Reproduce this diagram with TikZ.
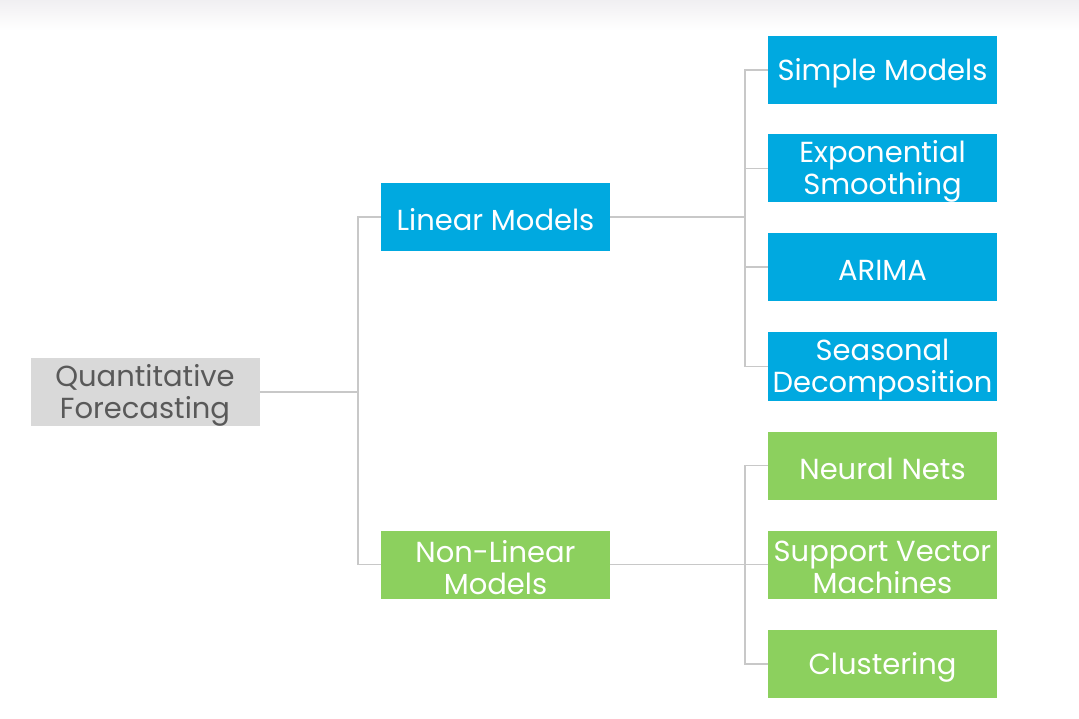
\documentclass[tikz,border=0pt]{standalone}
\usepackage{fontspec}
\setmainfont{Poppins}
\definecolor{bluebox}{HTML}{00A9E0}
\definecolor{greenbox}{HTML}{8CD05E}
\definecolor{graybox}{HTML}{D9D9D9}
\definecolor{graytext}{HTML}{595959}
\definecolor{linecol}{HTML}{C8C8C8}
\definecolor{topshade}{HTML}{F0EFF2}
\begin{document}
\begin{tikzpicture}[x=1pt,y=-1pt,
  box/.style={minimum width=229pt,minimum height=68pt,inner sep=0pt},
  bbox/.style={box,fill=bluebox},
  gbox/.style={box,fill=greenbox},
  qbox/.style={box,fill=graybox},
  txt/.style={inner sep=0pt,align=center,yshift=-3pt,text=white,font=\fontsize{29}{32}\selectfont},
  qtxt/.style={txt,text=graytext},
  conn/.style={draw=linecol,line width=1.4pt}]
\useasboundingbox (0,0) rectangle (1079,719);
\fill[white] (0,0) rectangle (1079,719);
\shade[top color=topshade,bottom color=white] (0,0) rectangle (1079,30);
\node[qbox] (qf) at (145,392) {};
\node[qtxt] (qft) at (qf) {Quantitative\\Forecasting};
\node[bbox] (lin) at (495.5,217) {};
\node[txt] (lint) at (lin) {Linear Models};
\node[gbox] (nl) at (495.5,564.5) {};
\node[txt] (nlt) at (nl) {Non-Linear\\Models};
\node[bbox] (sm) at (882.5,70) {};
\node[txt] (smt) at (sm) {Simple Models};
\node[bbox] (es) at (882.5,168.5) {};
\node[txt] (est) at (es) {Exponential\\Smoothing};
\node[bbox] (ar) at (882.5,267) {};
\node[txt] (art) at (ar) {ARIMA};
\node[bbox] (sd) at (882.5,366.5) {};
\node[txt] (sdt) at (sd) {Seasonal\\Decomposition};
\node[gbox] (nn) at (882.5,465.5) {};
\node[txt] (nnt) at (nn) {Neural Nets};
\node[gbox] (sv) at (882.5,564.5) {};
\node[txt] (svt) at (sv) {Support Vector\\Machines};
\node[gbox] (cl) at (882.5,664) {};
\node[txt] (clt) at (cl) {Clustering};
\coordinate (j1) at (358,392);
\coordinate (j2) at (745,217);
\coordinate (j3) at (745,564.5);
\draw[conn] (qf.east) -- (j1);
\draw[conn] (j1) |- (lin.west);
\draw[conn] (j1) |- (nl.west);
\draw[conn] (lin.east) -- (j2);
\foreach \n in {sm,es,ar,sd} \draw[conn] (j2) |- (\n.west);
\draw[conn] (nl.east) -- (j3);
\foreach \n in {nn,sv,cl} \draw[conn] (j3) |- (\n.west);
\end{tikzpicture}
\end{document}
